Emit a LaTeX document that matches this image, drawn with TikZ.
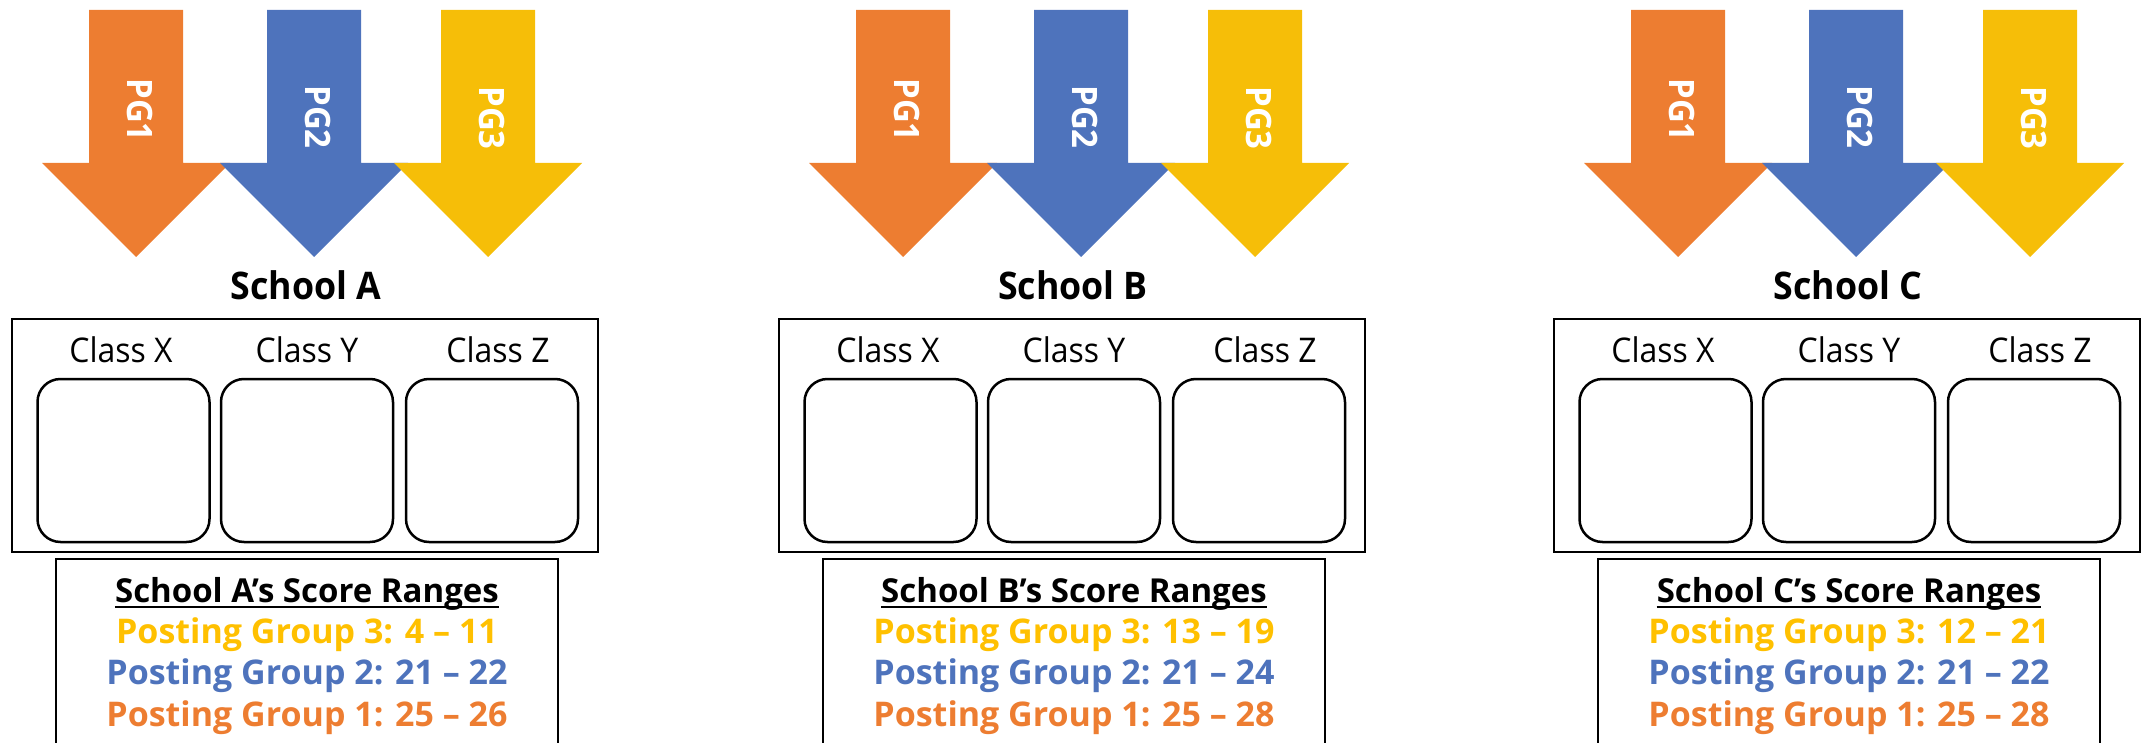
\documentclass[tikz,border=0pt]{standalone}
\usepackage{fontspec}
\setmainfont{Open Sans}[FakeStretch=0.94]
\newfontfamily\plainsans{Open Sans}
\definecolor{pgo}{HTML}{ED7D31}
\definecolor{pgb}{HTML}{4E73BC}
\definecolor{pgy}{HTML}{F6BE08}
\definecolor{txy}{HTML}{FFC000}
\tikzset{
  arrowlab/.style={text=white, font=\fontsize{35}{35}\selectfont\bfseries, rotate=-90, inner sep=0pt},
  schoollab/.style={font=\fontsize{38}{38}\selectfont\bfseries, inner sep=0pt, anchor=base},
  classlab/.style={font=\fontsize{34}{34}\selectfont, inner sep=0pt, anchor=base},
  outerbox/.style={draw, line width=2.5pt, minimum width=586pt, minimum height=233pt, inner sep=0pt},
  classbox/.style={draw, line width=2.5pt, rounded corners=23pt, minimum width=172pt, minimum height=163pt, inner sep=0pt},
  boxline/.style={line width=2.5pt},
  titlelab/.style={font=\plainsans\fontsize{33}{33}\selectfont\bfseries, inner sep=0pt, anchor=base},
  postlab/.style={font=\plainsans\fontsize{34}{34}\selectfont\bfseries, inner sep=0pt, anchor=base},
}
\newcommand\drawschool[5]{%
\begin{scope}[xshift=#1pt]
  \foreach \cx/\col/\lab/\ty in {136/pgo/PG1/110, 314/pgb/PG2/117, 488/pgy/PG3/118} {
    \fill[\col] (\cx-47,10) -- (\cx+47,10) -- (\cx+47,163) -- (\cx+94,163) -- (\cx,257) -- (\cx-94,163) -- (\cx-47,163) -- cycle;
    \node[arrowlab] (lab#2\lab) at (\cx+4,\ty) {\lab};
  }
  \node[schoollab] (school#2) at (306,300) {School #2};
  \node[outerbox] (box#2) at (305,435.5) {};
  \node[classlab] (clX#2) at (121,362) {Class X};
  \node[classlab] (clY#2) at (307,362) {Class Y};
  \node[classlab] (clZ#2) at (498,362) {Class Z};
  \node[classbox] (bxX#2) at (123.5,460.5) {};
  \node[classbox] (bxY#2) at (307,460.5) {};
  \node[classbox] (bxZ#2) at (492,460.5) {};
  \draw[boxline] (56,745) -- (56,559) -- (558,559) -- (558,745);
  \node[titlelab] (title#2) at (307,602) {School #2’s Score Ranges};
  \draw[line width=2pt] ([yshift=-4.5pt]title#2.base west) -- ([yshift=-4.5pt]title#2.base east);
  \node[postlab, text=txy] (pgc#2) at (307,643) {Posting Group 3: #3};
  \node[postlab, text=pgb] (pgb#2) at (307,684) {Posting Group 2: #4};
  \node[postlab, text=pgo] (pga#2) at (307,726) {Posting Group 1: #5};
\end{scope}}
\begin{document}
\begin{tikzpicture}[x=1pt, y=-1pt]
\useasboundingbox (0,0) rectangle (2142,743);
\drawschool{0}{A}{4 – 11}{21 – 22}{25 – 26}
\drawschool{767}{B}{13 – 19}{21 – 24}{25 – 28}
\drawschool{1542}{C}{12 – 21}{21 – 22}{25 – 28}
\end{tikzpicture}
\end{document}
